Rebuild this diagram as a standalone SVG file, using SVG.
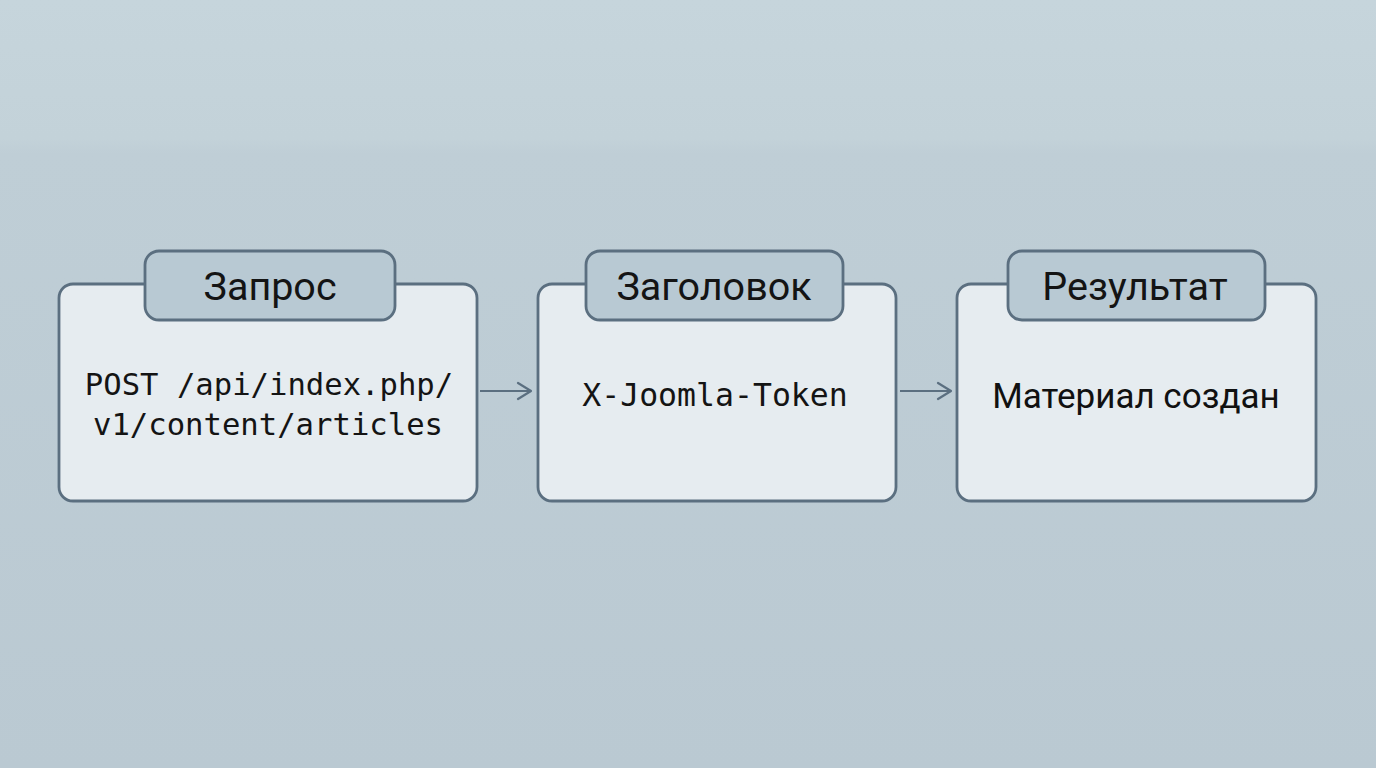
<svg xmlns="http://www.w3.org/2000/svg" width="1376" height="768" viewBox="0 0 1376 768">
<defs>
<linearGradient id="bg" x1="0" y1="0" x2="0" y2="1">
<stop offset="0" stop-color="#c6d5dc"/>
<stop offset="0.18" stop-color="#c3d2d9"/>
<stop offset="0.2" stop-color="#bfced6"/>
<stop offset="1" stop-color="#bac9d2"/>
</linearGradient>
<marker id="arr" viewBox="0 0 16 20" refX="15" refY="10" markerWidth="16" markerHeight="20" markerUnits="userSpaceOnUse" orient="auto">
<path d="M2,2 L15,10 L2,18" fill="none" stroke="#5b6f80" stroke-width="2.2" stroke-linecap="round" stroke-linejoin="round"/>
</marker>
<style>
.box{fill:#e6ecf0;stroke:#5b6f80;stroke-width:2.8}
.tab{fill:#b8c9d3;stroke:#5b6f80;stroke-width:2.8}
.title{font-family:Roboto,"Noto Sans",sans-serif;font-size:39.5px;fill:#141414;text-anchor:middle}
.mono{font-family:"DejaVu Sans Mono","Liberation Mono",monospace;fill:#141414;text-anchor:middle}
.body{font-family:Roboto,"Noto Sans",sans-serif;font-size:35px;fill:#111;text-anchor:middle}
.conn{stroke:#5b6f80;stroke-width:2.2;fill:none;marker-end:url(#arr)}
</style>
</defs>
<rect width="1376" height="768" fill="url(#bg)"/>
<g id="connectors">
<line class="conn" x1="480" y1="391" x2="531" y2="391"/>
<line class="conn" x1="900" y1="391" x2="951" y2="391"/>
</g>
<g id="node-request">
<rect class="box" x="59" y="284" width="418" height="217" rx="14"/>
<rect class="tab" x="145" y="251" width="250" height="69" rx="14"/>
<text class="title" x="270" y="300">Запрос</text>
<text class="mono" x="269" y="395" font-size="30.6">POST /api/index.php/</text>
<text class="mono" x="268" y="435" font-size="30.6">v1/content/articles</text>
</g>
<g id="node-header">
<rect class="box" x="538" y="284" width="358" height="217" rx="14"/>
<rect class="tab" x="586" y="251" width="257" height="69" rx="14"/>
<text class="title" x="714" y="300">Заголовок</text>
<text class="mono" x="715" y="406" font-size="31.5">X-Joomla-Token</text>
</g>
<g id="node-result">
<rect class="box" x="957" y="284" width="359" height="217" rx="14"/>
<rect class="tab" x="1008" y="251" width="257" height="69" rx="14"/>
<text class="title" x="1135" y="300">Результат</text>
<text class="body" x="1136" y="408">Материал создан</text>
</g>
</svg>
